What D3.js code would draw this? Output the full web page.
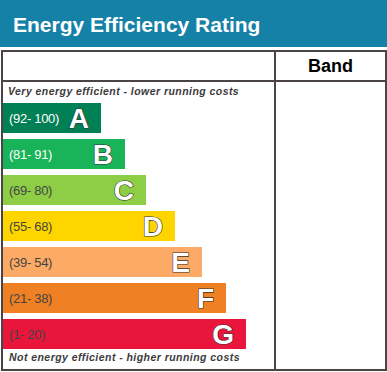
<!DOCTYPE html>
<html>
<head>
<meta charset="utf-8">
<script src="https://cdn.jsdelivr.net/npm/d3@7"></script>
<style>
  body { margin: 0; background: #fff; }
  svg { display: block; font-family: Arial, "Liberation Sans", sans-serif; }
</style>
</head>
<body>
<div id="chart"></div>
<script>
// Bands, their score ranges and the relative bar lengths
const bands = ["A", "B", "C", "D", "E", "F", "G"];
const ranges = ["(92- 100)", "(81- 91)", "(69- 80)", "(55- 68)", "(39- 54)", "(21- 38)", "(1- 20)"];
const lengths = [98, 122, 143, 172, 199, 223, 243];
const colors = ["#008054", "#19b459", "#8dce46", "#ffd500", "#fcaa65", "#ef8023", "#e9153b"];
const rangeTextColors = ["#fff", "#fff", "#444", "#444", "#444", "#444", "#444"];

const width = 387, height = 372;
const border = "#4a4446";

const svg = d3.select("#chart")
    .append("svg")
    .attr("width", width)
    .attr("height", height);

// Title bar
svg.append("rect").attr("x", 0).attr("y", 0).attr("width", width).attr("height", 47).attr("fill", "#1681a6");
svg.append("text")
    .attr("x", 13).attr("y", 32)
    .attr("font-size", "21px").attr("font-weight", "bold").attr("fill", "#fff")
    .text("Energy Efficiency Rating");

// Table frame
svg.append("rect")
    .attr("x", 2).attr("y", 51).attr("width", 384).attr("height", 319)
    .attr("fill", "none").attr("stroke", border).attr("stroke-width", 2);
svg.append("line").attr("x1", 2).attr("x2", 386).attr("y1", 81).attr("y2", 81)
    .attr("stroke", border).attr("stroke-width", 2);
svg.append("line").attr("x1", 275).attr("x2", 275).attr("y1", 51).attr("y2", 370)
    .attr("stroke", border).attr("stroke-width", 2);

svg.append("text")
    .attr("x", 330.5).attr("y", 72).attr("text-anchor", "middle")
    .attr("font-size", "18px").attr("font-weight", "bold").attr("fill", "#000")
    .text("Band");

// Captions
svg.append("text")
    .attr("x", 8).attr("y", 95)
    .attr("font-size", "10.5px").attr("font-weight", "bold").attr("font-style", "italic")
    .attr("fill", "#3c3a3c").attr("letter-spacing", "0.45px")
    .text("Very energy efficient - lower running costs");
svg.append("text")
    .attr("x", 9).attr("y", 361)
    .attr("font-size", "10.5px").attr("font-weight", "bold").attr("font-style", "italic")
    .attr("fill", "#3c3a3c").attr("letter-spacing", "0.45px")
    .text("Not energy efficient - higher running costs");

// Scales
const x = d3.scaleLinear().domain([0, d3.max(lengths)]).range([3, 246]);
const y = d3.scaleBand().domain(bands).range([100, 352]).paddingInner(1 / 6).paddingOuter(1 / 12);

const rows = svg.selectAll("g.band")
    .data(bands)
    .enter()
    .append("g")
    .attr("class", "band");

rows.append("rect")
    .attr("x", x(0))
    .attr("y", d => y(d))
    .attr("width", (d, i) => x(lengths[i]) - x(0))
    .attr("height", y.bandwidth())
    .attr("fill", (d, i) => colors[i]);

rows.append("text")
    .attr("x", 9)
    .attr("y", d => y(d) + y.bandwidth() / 2 + 5)
    .attr("font-size", "13px")
    .attr("fill", (d, i) => rangeTextColors[i])
    .attr("letter-spacing", "-0.3px")
    .text((d, i) => ranges[i]);

rows.append("text")
    .attr("x", (d, i) => x(lengths[i]) - 12)
    .attr("y", d => y(d) + 25)
    .attr("text-anchor", "end")
    .attr("font-size", "28px")
    .attr("font-weight", "bold")
    .attr("fill", "#fff")
    .attr("stroke", "#333")
    .attr("stroke-width", 1.2)
    .attr("paint-order", "stroke")
    .text(d => d);
</script>
</body>
</html>
